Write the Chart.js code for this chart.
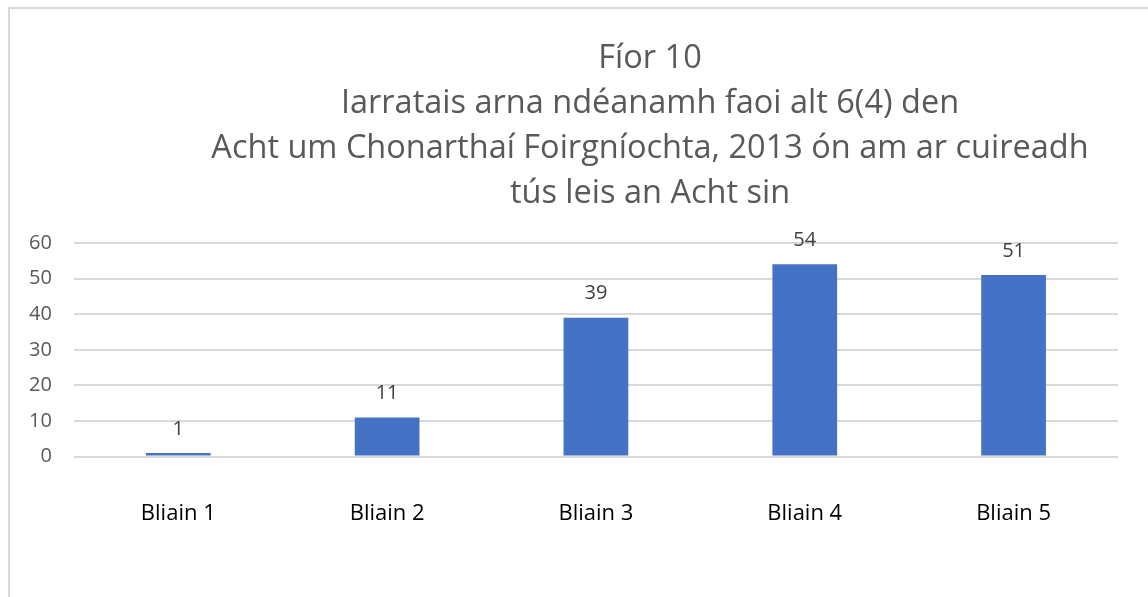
<!DOCTYPE html>
<html lang="ga">
<head>
    <meta charset="UTF-8">
    <title>Fíor 10</title>
    <script src="https://cdn.jsdelivr.net/npm/chart.js"></script>
    <style>
        body { margin: 0; background: #fff; }
        canvas { display: block; }
    </style>
</head>
<body>
    <canvas id="chart" width="1148" height="597"></canvas>
    <script>
        // sonraí
        const categories = ['Bliain 1', 'Bliain 2', 'Bliain 3', 'Bliain 4', 'Bliain 5'];
        const values = [1, 11, 39, 54, 51];
        const yTickValues = [0, 10, 20, 30, 40, 50, 60];
        const titleLines = [
            'Fíor 10',
            'Iarratais arna ndéanamh faoi alt 6(4) den',
            'Acht um Chonarthaí Foirgníochta, 2013 ón am ar cuireadh',
            'tús leis an Acht sin'
        ];

        const FONT = '"Open Sans", sans-serif';

        // teideal, imlíne agus lipéid luachanna
        const extras = {
            id: 'extras',
            beforeDraw(chart) {
                const ctx = chart.ctx;
                ctx.save();
                ctx.strokeStyle = '#d9d9d9';
                ctx.lineWidth = 2;
                ctx.strokeRect(9, 8, 1300, 700);
                ctx.fillStyle = '#595959';
                ctx.font = '32.5px ' + FONT;
                ctx.textAlign = 'center';
                ctx.textBaseline = 'middle';
                titleLines.forEach((line, i) => {
                    ctx.fillText(line, 650, 59 + i * 45);
                });
                ctx.restore();
            },
            afterDatasetsDraw(chart) {
                const ctx = chart.ctx;
                const meta = chart.getDatasetMeta(0);
                ctx.save();
                ctx.fillStyle = '#404040';
                ctx.font = '20px ' + FONT;
                ctx.textAlign = 'center';
                ctx.textBaseline = 'middle';
                meta.data.forEach((bar, i) => {
                    ctx.fillText(String(values[i]), bar.x, bar.y - 24);
                });
                ctx.restore();
            }
        };

        new Chart(document.getElementById('chart'), {
            type: 'bar',
            data: {
                labels: categories,
                datasets: [{
                    data: values,
                    backgroundColor: '#4472c4',
                    barPercentage: 0.31,
                    categoryPercentage: 1
                }]
            },
            options: {
                responsive: false,
                animation: false,
                layout: {
                    padding: { top: 243, right: 30, bottom: 26, left: 7 }
                },
                plugins: {
                    legend: { display: false },
                    title: { display: false },
                    tooltip: { enabled: false }
                },
                scales: {
                    x: {
                        grid: { display: false, drawTicks: false },
                        border: { display: false },
                        ticks: {
                            color: '#000',
                            font: { family: FONT, size: 22 },
                            padding: 44
                        }
                    },
                    y: {
                        min: yTickValues[0],
                        max: yTickValues[yTickValues.length - 1],
                        afterBuildTicks(axis) {
                            axis.ticks = yTickValues.map(v => ({ value: v }));
                        },
                        grid: { color: '#d9d9d9', lineWidth: 2, drawTicks: false },
                        border: { display: false },
                        ticks: {
                            color: '#595959',
                            font: { family: FONT, size: 20 },
                            padding: 22
                        }
                    }
                }
            },
            plugins: [extras]
        });
    </script>
</body>
</html>
